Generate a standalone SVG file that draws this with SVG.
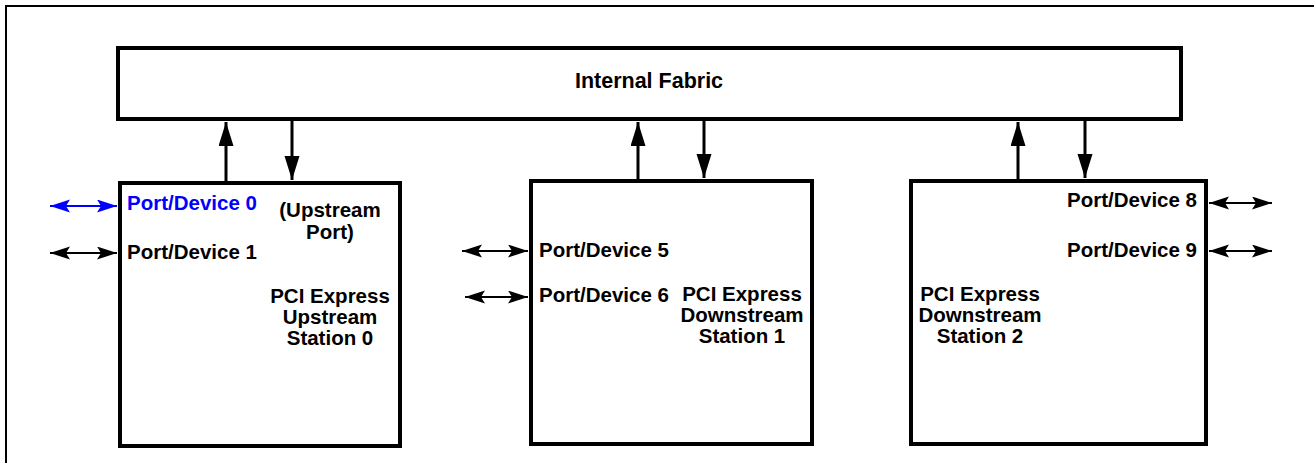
<svg xmlns="http://www.w3.org/2000/svg" width="1314" height="463" viewBox="0 0 1314 463">
<style>
.box{fill:#fff;stroke:#000;stroke-width:4}
.t{font-family:"Liberation Sans",Arial,Helvetica,sans-serif;font-weight:bold;font-size:20.5px;fill:#000}
.big{font-size:21.5px}
.c{text-anchor:middle}
.r{text-anchor:end}
.v{stroke:#000;stroke-width:3;fill:none}
.h{stroke:#000;stroke-width:2.2;fill:none}
.hb{stroke:#0000ff;stroke-width:2.2;fill:none}
</style>
<defs>
<marker id="av" markerUnits="userSpaceOnUse" markerWidth="26" markerHeight="16" refX="24" refY="7.5" orient="auto" viewBox="0 0 26 16">
<path d="M0,0 L24,7.5 L0,15 z" fill="#000"/>
</marker>
<marker id="ah" markerUnits="userSpaceOnUse" markerWidth="22" markerHeight="14" refX="20" refY="6.5" orient="auto-start-reverse" viewBox="0 0 22 14">
<path d="M0,0 L20,6.5 L0,13 L4,6.5 z" fill="#000"/>
</marker>
<marker id="ahb" markerUnits="userSpaceOnUse" markerWidth="22" markerHeight="14" refX="20" refY="6.5" orient="auto-start-reverse" viewBox="0 0 22 14">
<path d="M0,0 L20,6.5 L0,13 L4,6.5 z" fill="#0000ff"/>
</marker>
</defs>
<rect width="1314" height="463" fill="#fff"/>
<g id="frame">
<path d="M6,463 L6,6 L1314,6" fill="none" stroke="#000" stroke-width="2"/>
</g>
<g id="fabric">
<rect class="box" x="118" y="48" width="1063" height="71"/>
<text class="t c big" x="649" y="88">Internal Fabric</text>
</g>
<g id="station0">
<rect class="box" x="120" y="183" width="280" height="263"/>
<text class="t" x="127" y="210" style="fill:#0000ff">Port/Device 0</text>
<text class="t" x="127" y="259">Port/Device 1</text>
<text class="t c" x="330" y="217">(Upstream</text>
<text class="t c" x="330" y="239">Port)</text>
<text class="t c" x="330" y="303">PCI Express</text>
<text class="t c" x="330" y="324">Upstream</text>
<text class="t c" x="330" y="345">Station 0</text>
</g>
<g id="station1">
<rect class="box" x="531" y="181" width="281" height="263"/>
<text class="t" x="539" y="257">Port/Device 5</text>
<text class="t" x="539" y="302">Port/Device 6</text>
<text class="t c" x="742" y="301">PCI Express</text>
<text class="t c" x="742" y="322">Downstream</text>
<text class="t c" x="742" y="343">Station 1</text>
</g>
<g id="station2">
<rect class="box" x="911" y="181" width="295" height="263"/>
<text class="t r" x="1197" y="207">Port/Device 8</text>
<text class="t r" x="1197" y="257">Port/Device 9</text>
<text class="t c" x="980" y="301">PCI Express</text>
<text class="t c" x="980" y="322">Downstream</text>
<text class="t c" x="980" y="343">Station 2</text>
</g>
<g id="connectors">
<line class="v" x1="226" y1="181" x2="226" y2="122" marker-end="url(#av)"/>
<line class="v" x1="292" y1="121" x2="292" y2="180" marker-end="url(#av)"/>
<line class="v" x1="638" y1="179" x2="638" y2="122" marker-end="url(#av)"/>
<line class="v" x1="704" y1="121" x2="704" y2="178" marker-end="url(#av)"/>
<line class="v" x1="1018" y1="179" x2="1018" y2="122" marker-end="url(#av)"/>
<line class="v" x1="1085" y1="121" x2="1085" y2="178" marker-end="url(#av)"/>
<line class="hb" x1="50" y1="206" x2="117" y2="206" marker-start="url(#ahb)" marker-end="url(#ahb)"/>
<line class="h" x1="50" y1="253" x2="117" y2="253" marker-start="url(#ah)" marker-end="url(#ah)"/>
<line class="h" x1="462" y1="251" x2="528" y2="251" marker-start="url(#ah)" marker-end="url(#ah)"/>
<line class="h" x1="465" y1="297" x2="528" y2="297" marker-start="url(#ah)" marker-end="url(#ah)"/>
<line class="h" x1="1209" y1="203" x2="1272" y2="203" marker-start="url(#ah)" marker-end="url(#ah)"/>
<line class="h" x1="1209" y1="251" x2="1272" y2="251" marker-start="url(#ah)" marker-end="url(#ah)"/>
</g>
</svg>
